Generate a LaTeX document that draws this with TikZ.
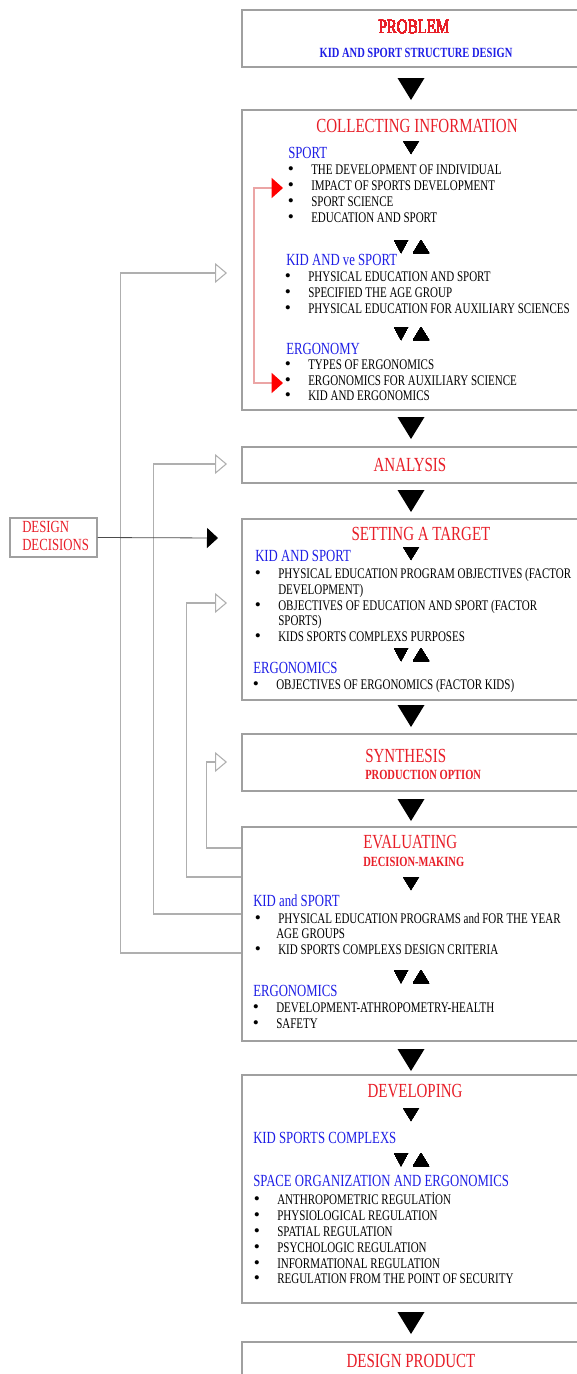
\documentclass[tikz,border=0pt]{standalone}
\usepackage{fontspec}
\setmainfont{Liberation Serif}[FakeStretch=0.75]
\newfontfamily\dotfont{Liberation Serif}
\usepackage{xcolor}
\usetikzlibrary{arrows.meta,fit}
\definecolor{pred}{RGB}{232,30,40}
\definecolor{pblue}{RGB}{30,30,230}
\definecolor{pbox}{RGB}{160,160,160}
\definecolor{pline}{RGB}{175,175,175}
\definecolor{ppink}{RGB}{235,165,165}
\newcommand{\bul}{\llap{{\dotfont\fontsize{13}{13}\selectfont\textbullet}\hspace{13pt}}}
\newcommand{\bigdown}[2]{\fill (#1-13.5,#2) -- (#1+13.5,#2) -- (#1,#2+22) -- cycle;}
\newcommand{\smdown}[2]{\fill (#1-8,#2) -- (#1+8,#2) -- (#1,#2+13) -- cycle;}
\newcommand{\smboth}[2]{\fill (#1-17,#2) -- (#1-3,#2) -- (#1-10,#2+13) -- cycle;
  \fill (#1+2,#2+13) -- (#1+18,#2+13) -- (#1+10,#2) -- cycle;}
\tikzset{
  stage/.style={draw=pbox,line width=1.1pt,fill=white,inner sep=0pt},
  title/.style={anchor=base,inner sep=0pt,text=pred,font=\fontsize{15}{17}\selectfont},
  sub/.style={anchor=base,inner sep=0pt,font=\bfseries\fontsize{10.5}{12}\selectfont},
  head/.style={anchor=base west,inner sep=0pt,text=pblue,font=\fontsize{12.75}{14}\selectfont},
  item/.style={anchor=base west,inner sep=0pt,font=\fontsize{11}{12}\selectfont},
  decbox/.style={draw=pbox,line width=0.8pt,inner sep=0pt},
  dectext/.style={anchor=base west,inner sep=0pt,align=left,text=pred,
                  font=\fontsize{12.75}{13.5}\selectfont},
  fback/.style={pline,line width=0.8pt,
                -{Triangle[open,length=9pt,width=15pt,fill=white]}},
  decide/.style={black!70,line width=0.6pt,
                 -{Triangle[length=8.25pt,width=15pt,color=black]}},
  redback/.style={ppink,line width=0.8pt,
                  {Triangle[length=8.5pt,width=15pt,color=red]}-{Triangle[length=8.5pt,width=15pt,color=red]}},
}
\begin{document}
\begin{tikzpicture}[x=0.75pt,y=-0.75pt]
  \useasboundingbox (0,0) rectangle (576,1374);
  % stage boxes
  \node[stage,fit={(242,10)(600,67)}] (problem) {};
  \node[stage,fit={(242,110)(600,410)}] (collect) {};
  \node[stage,fit={(242,447)(600,483)}] (analysis) {};
  \node[stage,fit={(242,519)(600,700)}] (target) {};
  \node[stage,fit={(242,734)(600,791)}] (synth) {};
  \node[stage,fit={(242,827)(600,1041)}] (evaluate) {};
  \node[stage,fit={(242,1075)(600,1303)}] (develop) {};
  \node[stage,fit={(242,1342)(600,1400)}] (product) {};
  % arrows between stages
  \foreach \y in {78,417,490,705,799,1049,1312}
    \bigdown{411}{\y}
  \foreach \y in {141,547,877,1108}
    \smdown{411}{\y}
  \foreach \y in {240,327,648,970,1153}
    \smboth{411}{\y}
  % stage titles
  \node[title] (t-prob) at (414,33) {PROBLEM};
  \node[sub,text=pblue] (s-prob) at (416,57) {KID AND SPORT STRUCTURE DESIGN};
  \node[title] (t-coll) at (417,132) {COLLECTING INFORMATION};
  \node[title] (t-anal) at (410,471) {ANALYSIS};
  \node[title] (t-targ) at (421,540) {SETTING A TARGET};
  \node[title,anchor=base west] (t-syn) at (365,762) {SYNTHESIS};
  \node[sub,anchor=base west,text=pred] (s-syn) at (365,779) {PRODUCTION OPTION};
  \node[title,anchor=base west] (t-eval) at (363,848) {EVALUATING};
  \node[sub,anchor=base west,text=pred] (s-eval) at (363,866) {DECISION-MAKING};
  \node[title] (t-dev) at (415,1097) {DEVELOPING};
  \node[title] (t-prod) at (411,1367) {DESIGN PRODUCT};
  % collecting information
  \node[head] (h-sport) at (288,158) {SPORT};
  \foreach \t [count=\i] in {THE DEVELOPMENT OF INDIVIDUAL,IMPACT OF SPORTS DEVELOPMENT,
      SPORT SCIENCE,EDUCATION AND SPORT}
    \node[item] (sport-\i) at (311,158+16*\i) {\bul\t};
  \node[head] (h-kid) at (286,265) {KID AND ve SPORT};
  \foreach \t [count=\i] in {PHYSICAL EDUCATION AND SPORT,SPECIFIED THE AGE GROUP,
      PHYSICAL EDUCATION FOR AUXILIARY SCIENCES}
    \node[item] (kid-\i) at (308,265+16*\i) {\bul\t};
  \node[head] (h-ergy) at (286,354) {ERGONOMY};
  \foreach \t [count=\i] in {TYPES OF ERGONOMICS,ERGONOMICS FOR AUXILIARY SCIENCE,
      KID AND ERGONOMICS}
    \node[item] (ergy-\i) at (308,354+15.5*\i) {\bul\t};
  \coordinate (rtop) at (283,188);
  \coordinate (rbot) at (283,383);
  \draw[redback] (rtop) -- ++(-29,0) |- (rbot);
  % setting a target
  \node[head] (h-ks) at (255,561) {KID AND SPORT};
  \node[item] (ks-1) at (278,578) {\bul PHYSICAL EDUCATION PROGRAM OBJECTIVES (FACTOR};
  \node[item] (ks-1b) at (278,594) {DEVELOPMENT)};
  \node[item] (ks-2) at (278,610) {\bul OBJECTIVES OF EDUCATION AND SPORT (FACTOR};
  \node[item] (ks-2b) at (278,625) {SPORTS)};
  \node[item] (ks-3) at (278,641) {\bul KIDS SPORTS COMPLEXS PURPOSES};
  \node[head] (h-ergt) at (253,673) {ERGONOMICS};
  \node[item] (ergt-1) at (276,689) {\bul OBJECTIVES OF ERGONOMICS (FACTOR KIDS)};
  % evaluating
  \node[head] (h-ke) at (253,906) {KID and SPORT};
  \node[item] (ke-1) at (278,923) {\bul PHYSICAL EDUCATION PROGRAMS and FOR THE YEAR};
  \node[item] (ke-1b) at (276,938) {AGE GROUPS};
  \node[item] (ke-2) at (278,954) {\bul KID SPORTS COMPLEXS DESIGN CRITERIA};
  \node[head] (h-erge) at (253,996) {ERGONOMICS};
  \node[item] (erge-1) at (276,1012) {\bul DEVELOPMENT-ATHROPOMETRY-HEALTH};
  \node[item] (erge-2) at (276,1028) {\bul SAFETY};
  % developing
  \node[head] (h-ksc) at (253,1143) {KID SPORTS COMPLEXS};
  \node[head] (h-space) at (253,1186) {SPACE ORGANIZATION AND ERGONOMICS};
  \foreach \t [count=\i] in {ANTHROPOMETRIC REGULATİON,PHYSIOLOGICAL REGULATION,
      SPATIAL REGULATION,PSYCHOLOGIC REGULATION,INFORMATIONAL REGULATION,
      REGULATION FROM THE POINT OF SECURITY}
    \node[item] (reg-\i) at (277,1189+15.8*\i) {\bul\t};
  % design decisions and feedback
  \coordinate (in1) at (227,273);
  \coordinate (in2) at (227,464);
  \coordinate (in3) at (227,603);
  \coordinate (in4) at (227,762);
  \draw[fback] (evaluate.west |- 0,953) -- ++(-121,0) |- (in1);
  \draw[fback] (evaluate.west |- 0,914) -- ++(-88,0) |- (in2);
  \draw[fback] (evaluate.west |- 0,877) -- ++(-55,0) |- (in3);
  \draw[fback] (evaluate.west |- 0,848) -- ++(-35,0) |- (in4);
  \node[decbox,fit={(10,518)(97,557)}] (decide) {};
  \node[dectext] (decide-t) at (22,550) {DESIGN\\DECISIONS};
  \coordinate (dd-in) at (218,538);
  \draw[decide] (decide.east) -- (dd-in);
\end{tikzpicture}
\end{document}
